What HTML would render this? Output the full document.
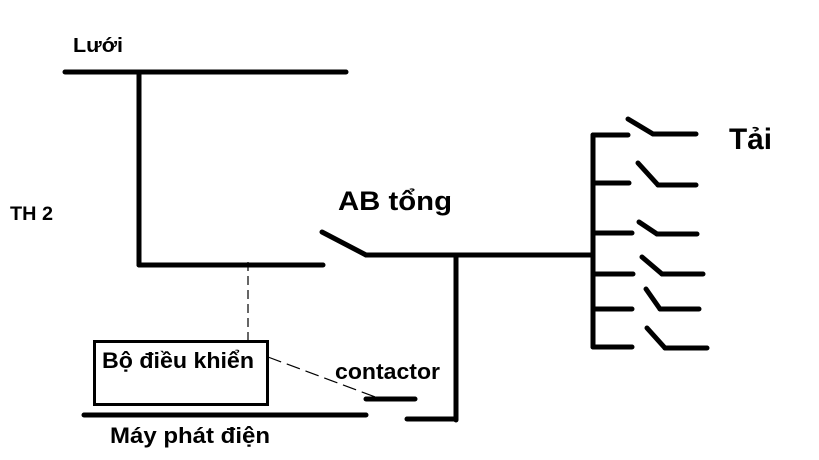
<!DOCTYPE html>
<html><head><meta charset="utf-8"><style>html,body{margin:0;padding:0;background:#fff}svg{display:block}</style></head>
<body>
<svg width="819" height="460" viewBox="0 0 819 460" xmlns="http://www.w3.org/2000/svg">
<g stroke="#000" stroke-width="5" stroke-linecap="round" fill="none">
<line x1="65" y1="72" x2="346" y2="72"/>
<line x1="139" y1="72" x2="139" y2="265"/>
<line x1="139" y1="265" x2="323" y2="265"/>
<line x1="322" y1="232" x2="366" y2="255"/>
<line x1="366" y1="255" x2="593" y2="255"/>
<line x1="456" y1="255" x2="456" y2="420"/>
<line x1="407" y1="419" x2="456" y2="419"/>
<line x1="366" y1="399" x2="415" y2="399"/>
<line x1="84" y1="415" x2="366" y2="415"/>
<line x1="593" y1="135" x2="593" y2="347"/>
<line x1="593" y1="135" x2="628" y2="135"/>
<line x1="593" y1="183" x2="629" y2="183"/>
<line x1="593" y1="233" x2="632" y2="233"/>
<line x1="593" y1="274" x2="633" y2="274"/>
<line x1="593" y1="309" x2="632" y2="309"/>
<line x1="593" y1="347" x2="632" y2="347"/>
<line x1="628" y1="119" x2="653" y2="134"/><line x1="653" y1="134" x2="696" y2="134"/>
<line x1="638" y1="163" x2="658" y2="185"/><line x1="658" y1="185" x2="696" y2="185"/>
<line x1="639" y1="222" x2="657" y2="234"/><line x1="657" y1="234" x2="697" y2="234"/>
<line x1="642" y1="257" x2="662" y2="274"/><line x1="662" y1="274" x2="703" y2="274"/>
<line x1="646" y1="289" x2="660" y2="309"/><line x1="660" y1="309" x2="699" y2="309"/>
<line x1="647" y1="328" x2="665" y2="348"/><line x1="665" y1="348" x2="707" y2="348"/>
</g>
<rect x="94.5" y="341.5" width="173" height="63" fill="none" stroke="#000" stroke-width="3"/>
<line x1="248" y1="262" x2="248" y2="340" stroke="#000" stroke-width="1.2" stroke-dasharray="9,5"/>
<line x1="268" y1="357" x2="378" y2="398" stroke="#000" stroke-width="1.2" stroke-dasharray="14,6"/>
<g font-family="Liberation Sans, sans-serif" font-weight="bold" fill="#000">
<text x="73" y="52" font-size="20" textLength="50" lengthAdjust="spacingAndGlyphs">Lưới</text>
<text x="10" y="220" font-size="19" textLength="43" lengthAdjust="spacingAndGlyphs">TH 2</text>
<text x="338" y="210" font-size="27" textLength="114" lengthAdjust="spacingAndGlyphs">AB tổng</text>
<text x="729" y="149" font-size="30" textLength="43" lengthAdjust="spacingAndGlyphs">Tải</text>
<text x="102" y="368" font-size="22" textLength="152" lengthAdjust="spacingAndGlyphs">Bộ điều khiển</text>
<text x="335" y="379" font-size="22" textLength="105" lengthAdjust="spacingAndGlyphs">contactor</text>
<text x="110" y="443" font-size="22" textLength="160" lengthAdjust="spacingAndGlyphs">Máy phát điện</text>
</g>
</svg>
</body></html>
